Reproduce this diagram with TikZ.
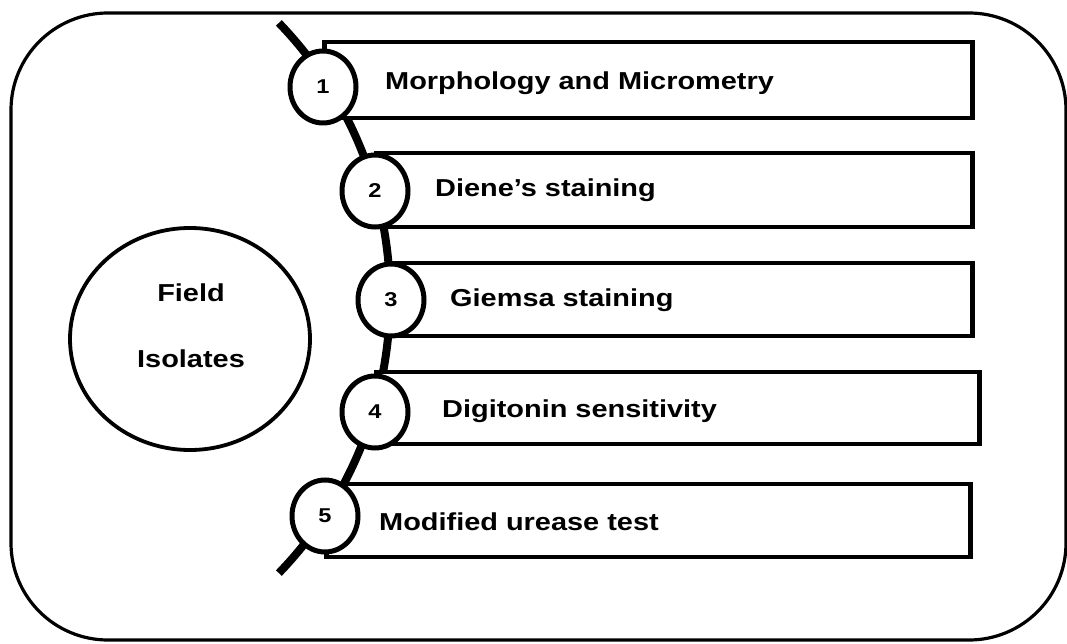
\documentclass[tikz,border=0pt]{standalone}
\usepackage{fontspec}
\setmainfont{Liberation Sans}[FakeStretch=1.18]
\usetikzlibrary{positioning,shapes.geometric}
\newcommand{\boxlw}{4.5pt}
\newcommand{\numlw}{5pt}

\begin{document}
\begin{tikzpicture}[x=1pt,y=1pt]
    %\draw[help lines] (0,0) grid (1067,643);
        \useasboundingbox (0,0) rectangle (1067,643);
        \tikzset{stepbox/.style = {rectangle, draw, line width=\boxlw, fill=white, anchor=west, inner sep=0pt}}
        \tikzset{stepnum/.style = {ellipse, draw, line width=\numlw, fill=white, minimum width=66pt, minimum height=72pt, inner sep=0pt, font=\fontsize{20}{24}\selectfont\bfseries}}
        \tikzset{steptext/.style = {anchor=base west, inner sep=0pt, font=\fontsize{24.5}{29}\selectfont\bfseries}}
        \tikzset{spine/.style = {line width=8pt}}

        \draw[line width=3.2pt, rounded corners=97pt] (11,3) rectangle (1066,630);

        \node[ellipse, draw, line width=3.8pt, minimum width=240pt, minimum height=222pt] (iso) at (190,304) {};
        \node[steptext, anchor=base] (isoa) at (191,341) {Field};
        \node[steptext, anchor=base] (isob) at (191,276) {Isolates};

        \coordinate (sc) at (-6,345);
        \draw[spine] (sc) ++(44:396) coordinate (stop) arc[start angle=44, end angle=-44, radius=396] coordinate (sbot);

        \node[stepbox, minimum width=648pt, minimum height=76pt] (b1) at (322,563) {};
        \node[stepbox, minimum width=596pt, minimum height=74pt] (b2) at (374,453) {};
        \node[stepbox, minimum width=580pt, minimum height=73pt] (b3) at (390,343.5) {};
        \node[stepbox, minimum width=603pt, minimum height=72pt] (b4) at (374,235) {};
        \node[stepbox, minimum width=644pt, minimum height=73pt] (b5) at (324,122.5) {};

        \node[stepnum] (n1) at (323,556) {1};
        \node[stepnum] (n2) at (375,452) {2};
        \node[stepnum] (n3) at (391,343) {3};
        \node[stepnum] (n4) at (375,231) {4};
        \node[stepnum] (n5) at (325,127) {5};

        \node[steptext] (t1) at (385,553) {Morphology and Micrometry};
        \node[steptext] (t2) at (435,446) {Diene’s staining};
        \node[steptext] (t3) at (450,336) {Giemsa staining};
        \node[steptext] (t4) at (442,226) {Digitonin sensitivity};
        \node[steptext] (t5) at (379,113) {Modified urease test};

    \end{tikzpicture}
\end{document}
